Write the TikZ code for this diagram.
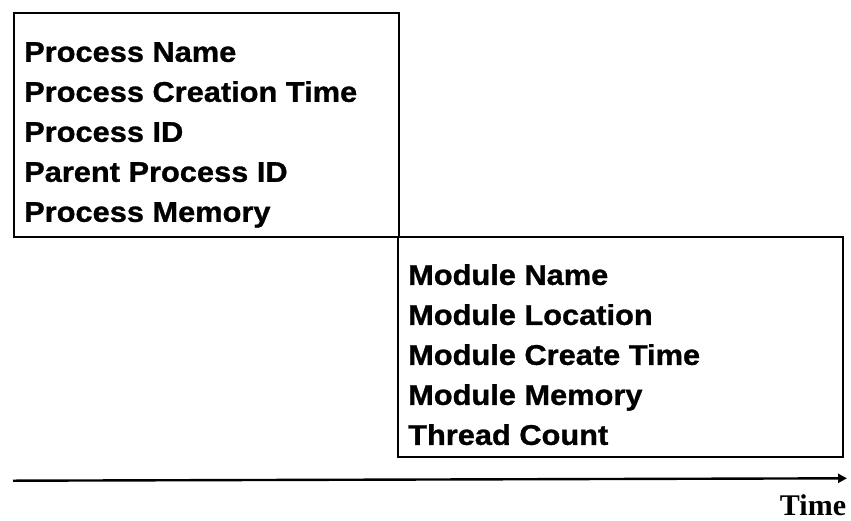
\documentclass[tikz,border=0pt]{standalone}
\usepackage{fontspec}
\usetikzlibrary{arrows.meta}
\newfontfamily\fieldfont[FakeStretch=1.08, FakeBold=1]{Liberation Sans}
\newfontfamily\axisfont{Liberation Serif}
\tikzset{
    box/.style={draw, line width=2.4pt, anchor=north west, inner sep=0pt},
    fields/.style={anchor=north west, align=left, inner sep=0pt,
        font=\fieldfont\bfseries\fontsize{28.5}{40}\selectfont},
    axis/.style={line width=2.4pt, -{Triangle[length=9pt, width=9pt]}}
}

\begin{document}
\begin{tikzpicture}[x=1pt, y=-1pt]
  \useasboundingbox (0,0) rectangle (851,520);

  % process record, then the module record that follows it
  \node (proc) [box, minimum width=385pt, minimum height=224pt] at (13,12) {};
  \node (mod) [box, minimum width=445pt, minimum height=220pt] at (397,236) {};

  \node (procfields) [fields] at (24,42) {Process Name\\
    Process Creation Time\\ Process ID\\ Parent Process ID\\ Process Memory};
  \node (modfields) [fields] at (408,264) {Module Name\\
    Module Location\\ Module Create Time\\ Module Memory\\ Thread Count};

  % time axis
  \coordinate (t0) at (13,480.7);
  \coordinate (t1) at (847,478.3);
  \draw [axis] (t0) -- (t1);
  \node (tlabel) [anchor=base, inner sep=0pt,
    font=\axisfont\bfseries\fontsize{30}{36}\selectfont] at (813,515) {Time};
\end{tikzpicture}
\end{document}
